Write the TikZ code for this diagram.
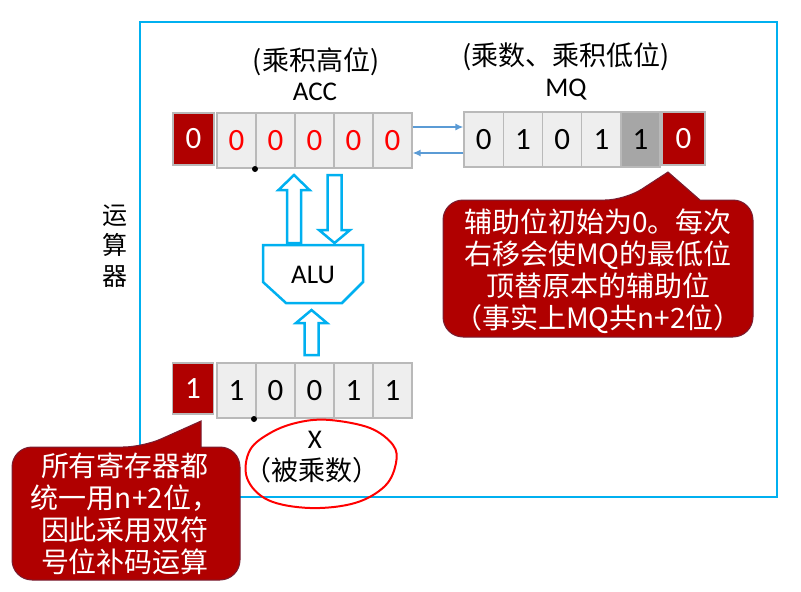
\documentclass[tikz,border=0pt]{standalone}
\usepackage{fontspec}
\setmainfont{Carlito}
\newfontfamily\cjk{Noto Sans CJK SC}
\usetikzlibrary{arrows.meta,calc}

\definecolor{frameblue}{RGB}{0,176,240}
\definecolor{darkred}{RGB}{176,0,0}
\definecolor{cellgray}{RGB}{238,238,238}
\definecolor{cellline}{RGB}{185,185,185}
\definecolor{lowgray}{RGB}{166,166,166}
\definecolor{linkblue}{RGB}{91,155,213}
\definecolor{calloutline}{RGB}{120,30,50}

\tikzset{
  cell/.style={draw=cellline, line width=1.2pt, fill=cellgray, minimum width=39pt,
    minimum height=55pt, inner sep=0pt, font=\fontsize{31}{31}\selectfont},
  signbit/.style={cell, fill=darkred, text=white, minimum width=41pt, minimum height=52pt},
  lbl/.style={inner sep=0pt, font=\fontsize{27}{27}\selectfont},
  link/.style={linkblue, line width=1.5pt, -{Latex[length=8pt,width=7pt]}},
  fatarrow/.style={draw=frameblue, line width=2.5pt, fill=white, line join=miter},
  callout/.style={fill=darkred, draw=calloutline, line width=1pt},
  calltext/.style={text=white, align=center, inner sep=0pt,
    font=\cjk\fontsize{28}{32}\selectfont}
}

% hollow arrow: x, tail y, head base y, tip y
\newcommand\hollowarrow[4]{%
  \draw[fatarrow] (#1-7,#2) -- (#1-7,#3) -- (#1-15.5,#3) -- (#1,#4)
    -- (#1+15.5,#3) -- (#1+7,#3) -- (#1+7,#2) -- cycle;}

\begin{document}
\begin{tikzpicture}[x=1pt, y=-1pt]
\useasboundingbox (0,0) rectangle (801,592);
\draw [frameblue, line width=2pt] (140,22) rectangle (777,497); % arithmetic unit
\node [lbl, align=center, font=\cjk\fontsize{25}{30.5}\selectfont] (unit) at (115,246) {运\\算\\器};

% ACC
\node [lbl, font=\cjk\fontsize{27}{27}\selectfont] (acctitle) at (316,62) {(乘积高位)};
\node [lbl] (accname) at (315,92) {ACC};
\node [signbit] (accsign) at (193.5,139) {0};
\foreach \v [count=\i] in {0,0,0,0,0}
  \node [cell, text=red] (acc\i) at ({197.5+39*\i},140.5) {\v};
\fill (255,169) circle (3); % binary point

% MQ
\node [lbl, font=\cjk\fontsize{27}{27}\selectfont] (mqtitle) at (566,57) {(乘数、乘积低位)};
\node [lbl] (mqname) at (566,90) {MQ};
\foreach \v [count=\i] in {0,1,0,1}
  \node [cell, minimum width=39.25pt] (mq\i) at ({444.4+39.25*\i},139.5) {\v};
\node [cell, fill=lowgray] (mq5) at (640.5,139.5) {1};
\node [signbit, minimum width=43pt, minimum height=53pt] (mqaux) at (683.5,138.5) {0}; % auxiliary bit

\draw [link] ([yshift=13.5pt]acc5.east) -- ([yshift=12.5pt]mq1.west);
\draw [link] ([yshift=-13.5pt]mq1.west) -- ([yshift=-12.5pt]acc5.east);

% ALU
\draw [fatarrow] (263,245) -- (363,245) -- (363,282) -- (342,303) -- (286,303) -- (263,282) -- cycle;
\node [lbl] (alu) at (313,275) {ALU};
\hollowarrow{294}{243}{190}{175} % ALU to ACC
\hollowarrow{334.5}{175}{230}{243} % ACC to ALU
\hollowarrow{311.5}{355}{323}{310} % X to ALU

% X
\node [signbit, minimum height=51pt] (xsign) at (193,388.5) {1};
\foreach \v [count=\i] in {1,0,0,1,1}
  \node [cell] (x\i) at ({197.5+39*\i},390.5) {\v};
\fill (254,419) circle (3); % binary point
\node [lbl] (xname) at (315,440) {X};
\node [lbl, font=\cjk\fontsize{27}{27}\selectfont] (xtitle) at (312,470) {（被乘数）};
\draw [red, line width=2pt] plot [smooth cycle, tension=0.6] coordinates
  {(330,420) (370,428) (393,445) (396,463) (385,486) (355,503) (310,508) (268,500)
   (247,478) (250,450) (272,432) (300,422)};

% notes
\draw [callout] (12,510) [rounded corners=20] -- (12,447) -- (143,447) [sharp corners] -- (201,421)
  -- (201,447) [rounded corners=20] -- (240,447) -- (240,580) -- (12,580) -- cycle;
\node [calltext] (note1) at (125,514) {所有寄存器都\\统一用n+2位，\\因此采用双符\\号位补码运算};
\draw [callout] (443,260) [rounded corners=20] -- (443,200) -- (625,200) [sharp corners] -- (668,172)
  -- (700,200) [rounded corners=20] -- (753,200) -- (753,337) -- (443,337) -- cycle;
\node [calltext] (note2) at (598,271) {辅助位初始为0。每次\\右移会使MQ的最低位\\顶替原本的辅助位\\（事实上MQ共n+2位）};
\end{tikzpicture}
\end{document}
